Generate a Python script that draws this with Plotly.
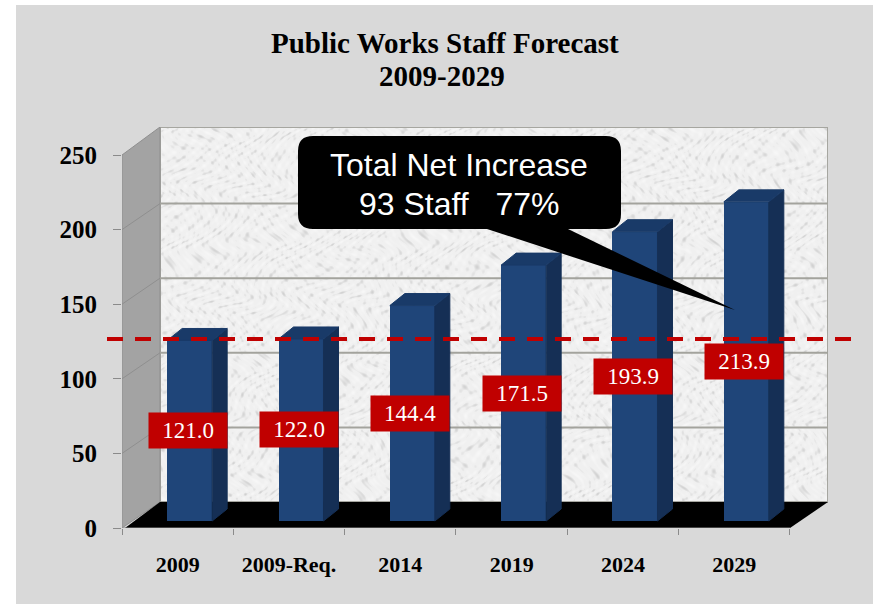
import base64
import struct
import zlib

import numpy as np
import plotly.graph_objects as go

# Forecast data
categories = ["2009", "2009-Req.", "2014", "2019", "2024", "2029"]
staff = [121.0, 122.0, 144.4, 171.5, 193.9, 213.9]
y_ticks = [0, 50, 100, 150, 200, 250]
reference_level = 122.0
title_lines = ["Public Works Staff Forecast", "2009-2029"]
callout_lines = ["Total Net Increase", "93 Staff\u00a0\u00a0\u00a077%"]

# Page geometry
W, H = 875, 604
LEFT, RIGHT, TOP, BOTTOM = 122, 828, 127, 528
UNIT_X = 111.33      # pixels per category
UNIT_Y = 1.492       # pixels per staff member

# 3D box offsets, in axis units
WALL_DX = 38 / UNIT_X
WALL_DY = 26 / UNIT_Y
BAR_SHIFT = 12 / UNIT_X
BAR_BASE = 7 / UNIT_Y
BAR_WIDTH = 45 / UNIT_X
BAR_DX = 15 / UNIT_X
BAR_DY = 12 / UNIT_Y

x_min = -0.5
x_max = x_min + (RIGHT - LEFT) / UNIT_X
y_max = (BOTTOM - TOP) / UNIT_Y
positions = list(range(len(categories)))
bar_x = [p + BAR_SHIFT for p in positions]


def paper_x(px):
    return (px - LEFT) / (RIGHT - LEFT)


def paper_y(px):
    return (BOTTOM - px) / (BOTTOM - TOP)


def polygon(xs, ys):
    return "M" + " L".join(f"{x},{y}" for x, y in zip(xs, ys)) + " Z"


def stone_texture(width, height):
    """Mottled light-gray wall finish, built from warped overlapping waves, as a PNG data URI."""
    yy, xx = np.mgrid[0:height, 0:width].astype(float)
    warp_a = 5.0 * np.sin(xx * 0.041 + 3.1 * np.sin(yy * 0.053))
    warp_b = 4.0 * np.sin(yy * 0.037 + 2.7 * np.sin(xx * 0.029))
    wave = (np.sin(xx * 0.37 + yy * 0.23 + warp_a)
            + np.sin(xx * 0.19 - yy * 0.43 + warp_b)
            + np.sin(xx * 0.61 + yy * 0.71 + warp_a - warp_b)
            + 0.7 * np.sin(xx * 0.97 - yy * 0.53 + warp_a + warp_b))
    gray = np.clip(240 - np.clip(-wave - 0.9, 0, None) * 11 + np.clip(wave, 0, None) * 2, 0, 255)
    raw = b"".join(b"\x00" + bytes(np.repeat(row, 3).astype(np.uint8)) for row in gray)

    def chunk(tag, body):
        return (struct.pack(">I", len(body)) + tag + body
                + struct.pack(">I", zlib.crc32(tag + body)))

    png = (b"\x89PNG\r\n\x1a\n"
           + chunk(b"IHDR", struct.pack(">IIBBBBB", width, height, 8, 2, 0, 0, 0))
           + chunk(b"IDAT", zlib.compress(raw))
           + chunk(b"IEND", b""))
    return "data:image/png;base64," + base64.b64encode(png).decode()


shapes = [
    # white page edges around the gray panel
    dict(type="rect", xref="paper", yref="paper", layer="below", x0=paper_x(0), x1=paper_x(16),
         y0=paper_y(H), y1=paper_y(0), fillcolor="#ffffff", line=dict(width=0)),
    dict(type="rect", xref="paper", yref="paper", layer="below", x0=paper_x(0), x1=paper_x(W),
         y0=paper_y(5), y1=paper_y(0), fillcolor="#ffffff", line=dict(width=0)),
    dict(type="rect", xref="paper", yref="paper", layer="below", x0=paper_x(873), x1=paper_x(W),
         y0=paper_y(H), y1=paper_y(0), fillcolor="#ffffff", line=dict(width=0)),
    # back wall outline
    dict(type="rect", layer="below", x0=x_min + WALL_DX, x1=x_max,
         y0=WALL_DY, y1=y_max, fillcolor="rgba(0,0,0,0)",
         line=dict(color="#a6a6a0", width=2)),
    # left wall
    dict(type="path", layer="below",
         path=polygon([x_min, x_min + WALL_DX, x_min + WALL_DX, x_min],
                      [0, WALL_DY, y_max, y_ticks[-1]]),
         fillcolor="#a3a3a3", line=dict(color="#8f8f8f", width=1)),
]

# gridlines along the back wall and across the left wall
for t in y_ticks[1:-1]:
    shapes.append(dict(type="line", layer="below", x0=x_min + WALL_DX, x1=x_max,
                       y0=t + WALL_DY, y1=t + WALL_DY,
                       line=dict(color="#a3a39d", width=2)))
    shapes.append(dict(type="line", layer="below", x0=x_min, x1=x_min + WALL_DX,
                       y0=t, y1=t + WALL_DY, line=dict(color="#8f8f8f", width=1)))

# black floor
shapes.append(dict(type="path", layer="below",
                   path=polygon([x_min + 3 / UNIT_X, x_min + WALL_DX, x_max,
                                 x_min + (790 - LEFT) / UNIT_X],
                                [0, WALL_DY, WALL_DY, 0]),
                   fillcolor="#000000", line=dict(width=0)))

# axis baseline along the front edge of the floor
shapes.append(dict(type="line", layer="below", x0=x_min, x1=x_min + (790 - LEFT) / UNIT_X,
                   y0=0, y1=0, line=dict(color="#8a8a8a", width=1)))

# dashed reference level, running past the box on both sides
shapes.append(dict(type="line", xref="paper", yref="y",
                   x0=paper_x(107), x1=paper_x(852),
                   y0=reference_level + BAR_BASE, y1=reference_level + BAR_BASE,
                   line=dict(color="#c00000", width=4, dash="16px,12px")))

# speech bubble, traced in page pixels
bx0, bx1, by0, by1, r = 298, 621, 136, 229, 15
tail = [(568, by1), (735, 310), (487, by1)]
pts = [f"M{paper_x(bx0 + r)},{paper_y(by0)}",
       f"L{paper_x(bx1 - r)},{paper_y(by0)}",
       f"Q{paper_x(bx1)},{paper_y(by0)} {paper_x(bx1)},{paper_y(by0 + r)}",
       f"L{paper_x(bx1)},{paper_y(by1 - r)}",
       f"Q{paper_x(bx1)},{paper_y(by1)} {paper_x(bx1 - r)},{paper_y(by1)}"]
pts += [f"L{paper_x(a)},{paper_y(b)}" for a, b in tail]
pts += [f"L{paper_x(bx0 + r)},{paper_y(by1)}",
        f"Q{paper_x(bx0)},{paper_y(by1)} {paper_x(bx0)},{paper_y(by1 - r)}",
        f"L{paper_x(bx0)},{paper_y(by0 + r)}",
        f"Q{paper_x(bx0)},{paper_y(by0)} {paper_x(bx0 + r)},{paper_y(by0)} Z"]
shapes.append(dict(type="path", xref="paper", yref="paper", path=" ".join(pts),
                   fillcolor="#000000", line=dict(width=0)))

fig = go.Figure()

# front faces of the columns
fig.add_trace(go.Bar(x=bar_x, y=staff, base=[BAR_BASE] * len(staff), width=BAR_WIDTH,
                     marker=dict(color="#1f4579", line=dict(width=0)),
                     hoverinfo="skip", showlegend=False))

# side and top faces of the columns
for cx, v in zip(bar_x, staff):
    xl, xr = cx - BAR_WIDTH / 2, cx + BAR_WIDTH / 2
    lo, hi = BAR_BASE, BAR_BASE + v
    fig.add_trace(go.Scatter(x=[xr, xr + BAR_DX, xr + BAR_DX, xr, xr],
                             y=[lo, lo + BAR_DY, hi + BAR_DY, hi, lo],
                             mode="lines", fill="toself", fillcolor="#152f55",
                             line=dict(width=1, color="#152f55"),
                             hoverinfo="skip", showlegend=False))
    fig.add_trace(go.Scatter(x=[xl, xl + BAR_DX, xr + BAR_DX, xr, xl],
                             y=[hi, hi + BAR_DY, hi + BAR_DY, hi, hi],
                             mode="lines", fill="toself", fillcolor="#193a68",
                             line=dict(width=1, color="#193a68"),
                             hoverinfo="skip", showlegend=False))


def page_text(px, py, text, family, size, color):
    return dict(xref="paper", yref="paper", x=paper_x(px), y=paper_y(py), text=text,
                xanchor="center", yanchor="middle", showarrow=False,
                font=dict(family=family, size=size, color=color))


annotations = [
    page_text(445, 43, f"<b>{title_lines[0]}</b>", "Liberation Serif", 29, "#000000"),
    page_text(442, 76, f"<b>{title_lines[1]}</b>", "Liberation Serif", 29, "#000000"),
    page_text(459, 165, callout_lines[0], "Liberation Sans", 32, "#ffffff"),
    page_text(459, 204, callout_lines[1], "Liberation Sans", 32, "#ffffff"),
]

# value tags centred on each column
for cx, v in zip(bar_x, staff):
    annotations.append(dict(x=cx - 2 / UNIT_X, y=BAR_BASE + v / 2, text=f"{v:.1f}",
                            showarrow=False, bgcolor="#c00000", width=76, height=33,
                            font=dict(family="Liberation Serif", size=23, color="#ffffff")))

wall_px_w, wall_px_h = RIGHT - LEFT - 38, BOTTOM - TOP - 26

fig.update_layout(
    width=W, height=H,
    margin=dict(l=LEFT, r=W - RIGHT, t=TOP, b=H - BOTTOM, pad=0),
    paper_bgcolor="#d9d9d9", plot_bgcolor="rgba(0,0,0,0)",
    showlegend=False, bargap=0,
    shapes=shapes, annotations=annotations,
    images=[dict(source=stone_texture(wall_px_w, wall_px_h), xref="paper", yref="paper",
                 x=paper_x(LEFT + 38), y=paper_y(TOP), sizex=paper_x(RIGHT) - paper_x(LEFT + 38),
                 sizey=paper_y(TOP) - paper_y(BOTTOM - 26), sizing="stretch", layer="below",
                 xanchor="left", yanchor="top")],
    xaxis=dict(range=[x_min, x_max], tickmode="array", tickvals=positions,
               ticktext=[f"<b>{c}</b>" for c in categories], ticks="", showgrid=False,
               zeroline=False, showline=False, ticklabelstandoff=21,
               tickfont=dict(family="Liberation Serif", size=22, color="#000000"),
               minor=dict(tickmode="array",
                          tickvals=[p - 0.5 for p in positions] + [positions[-1] + 0.5],
                          ticks="outside", ticklen=6, tickcolor="#8a8a8a", tickwidth=1,
                          showgrid=False)),
    yaxis=dict(range=[0, y_max], tickmode="array", tickvals=y_ticks,
               ticktext=[f"<b>{t}</b>" for t in y_ticks], ticks="outside", ticklen=8,
               tickcolor="#8a8a8a", showgrid=False, zeroline=False, showline=False,
               ticklabelstandoff=11,
               tickfont=dict(family="Liberation Serif", size=25, color="#000000")),
)

fig.write_html("out.html", config=dict(displayModeBar=False))
